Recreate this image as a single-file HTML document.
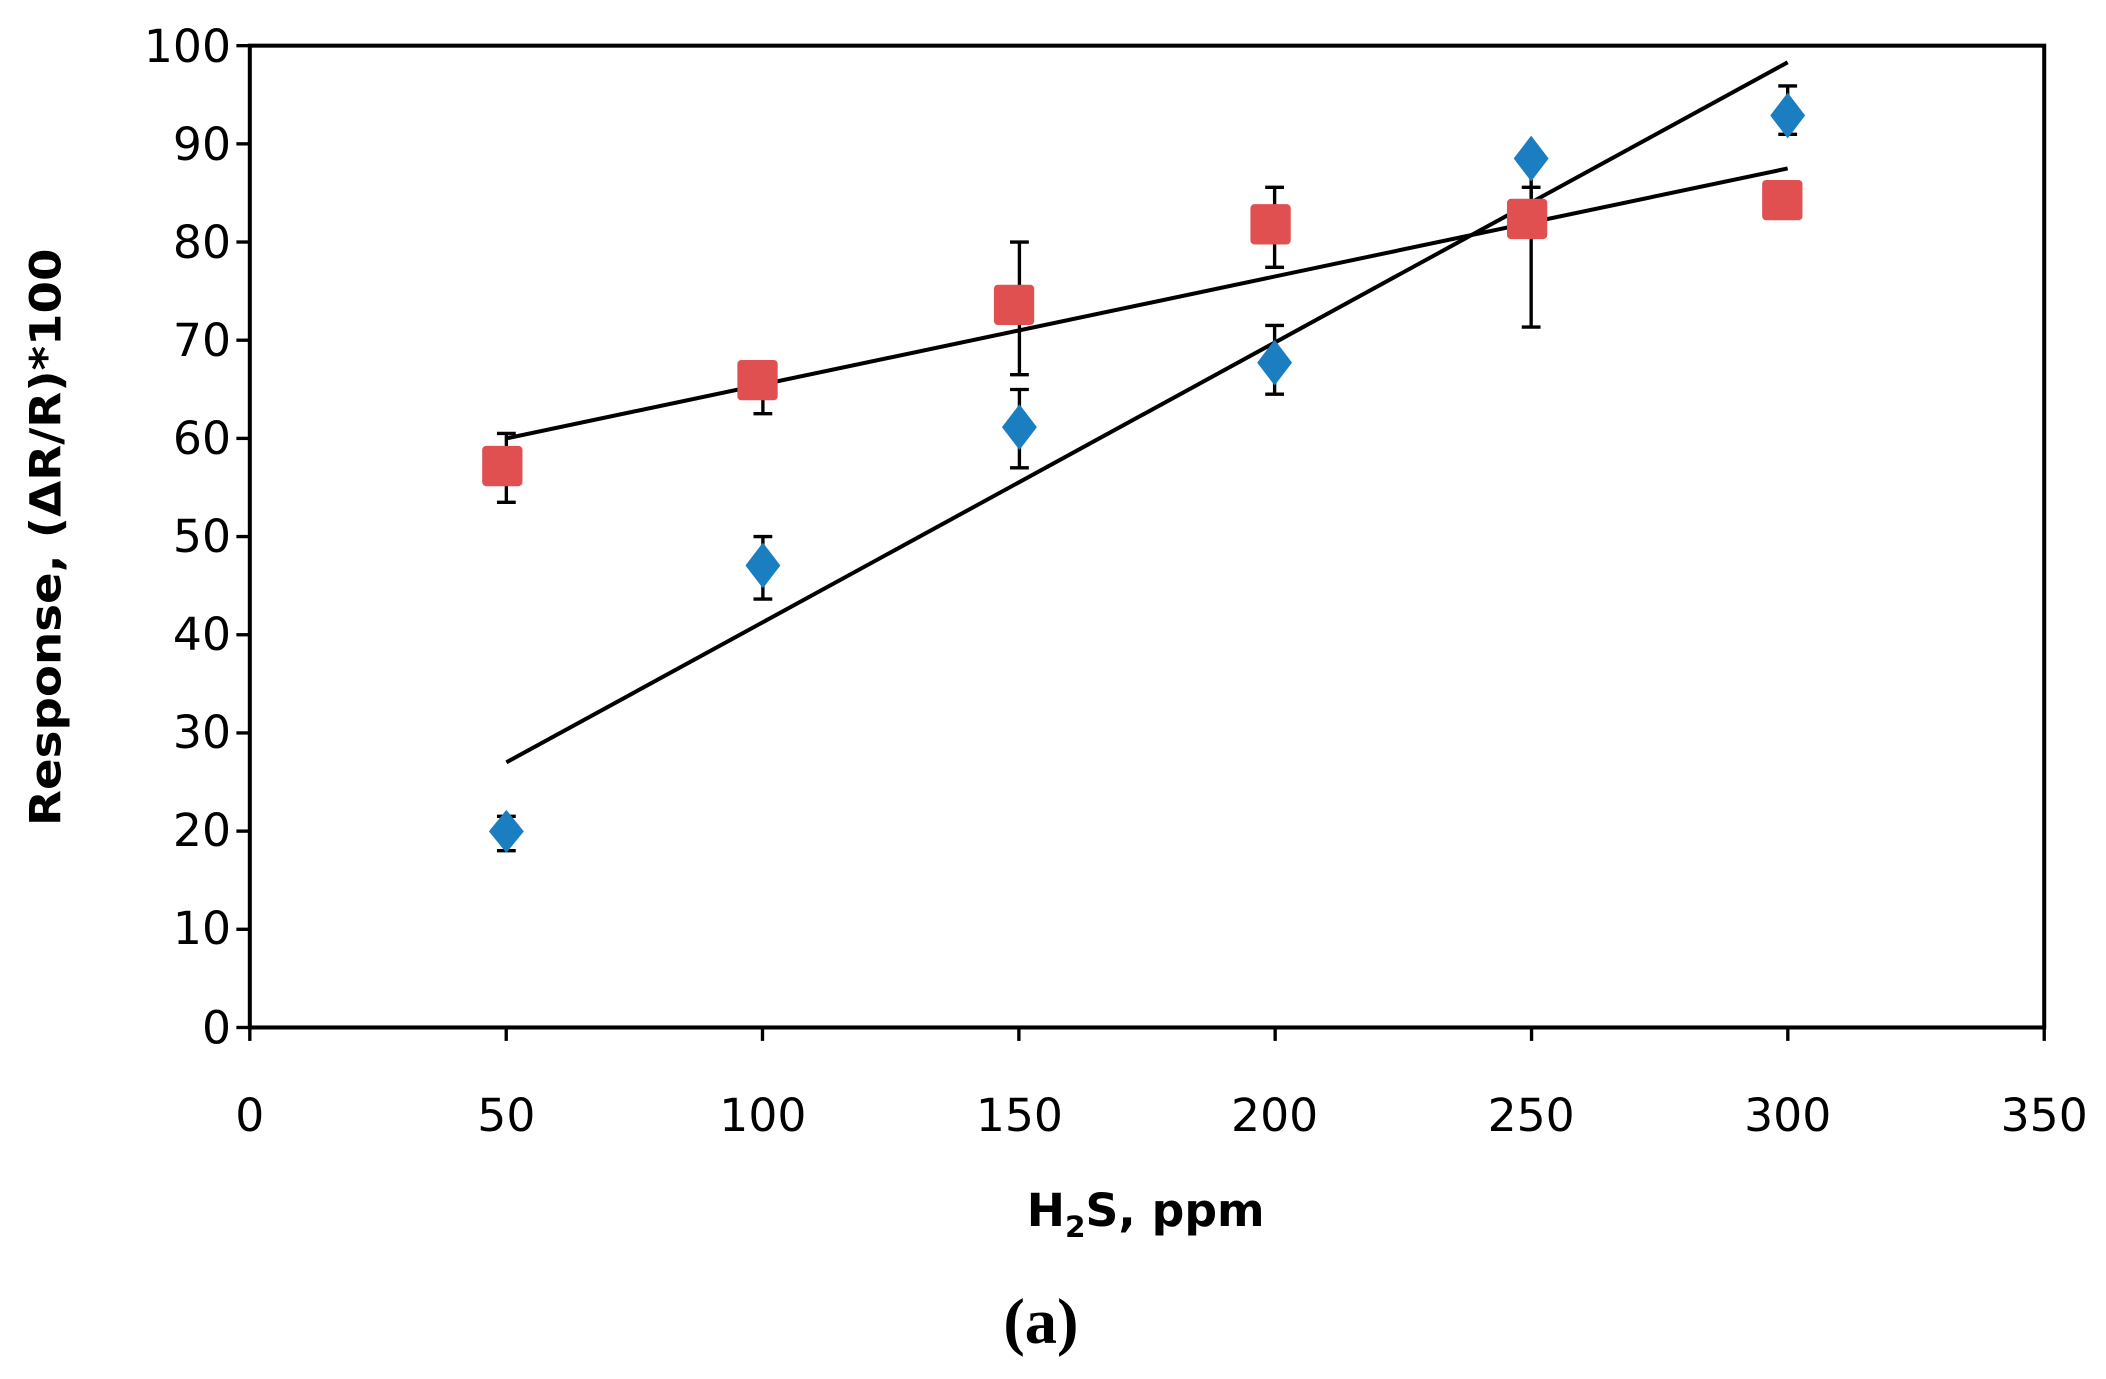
<!DOCTYPE html>
<html><head><style>html,body{margin:0;padding:0;background:#fff}</style></head>
<body>
<svg width="2106" height="1374" viewBox="0 0 1568 1023" preserveAspectRatio="none" xmlns="http://www.w3.org/2000/svg">
<rect width="1568" height="1023" fill="#fff"/>
<g stroke="#000" stroke-width="3" fill="none">
<rect x="186" y="34" width="1336" height="731"/>
</g>
<g stroke="#000" stroke-width="2.5">
<line x1="176" y1="34" x2="186" y2="34"/><line x1="176" y1="107.1" x2="186" y2="107.1"/><line x1="176" y1="180.2" x2="186" y2="180.2"/><line x1="176" y1="253.3" x2="186" y2="253.3"/><line x1="176" y1="326.4" x2="186" y2="326.4"/><line x1="176" y1="399.5" x2="186" y2="399.5"/><line x1="176" y1="472.6" x2="186" y2="472.6"/><line x1="176" y1="545.7" x2="186" y2="545.7"/><line x1="176" y1="618.8" x2="186" y2="618.8"/><line x1="176" y1="691.9" x2="186" y2="691.9"/><line x1="176" y1="765" x2="186" y2="765"/>
<line x1="186" y1="765" x2="186" y2="775"/><line x1="376.9" y1="765" x2="376.9" y2="775"/><line x1="567.7" y1="765" x2="567.7" y2="775"/><line x1="758.6" y1="765" x2="758.6" y2="775"/><line x1="949.4" y1="765" x2="949.4" y2="775"/><line x1="1140.3" y1="765" x2="1140.3" y2="775"/><line x1="1331.1" y1="765" x2="1331.1" y2="775"/><line x1="1522" y1="765" x2="1522" y2="775"/>
</g>
<g font-family="DejaVu Sans, sans-serif" font-size="34" fill="#000" text-anchor="end">
<text x="172" y="46">100</text><text x="172" y="119">90</text><text x="172" y="192">80</text><text x="172" y="265">70</text><text x="172" y="338">60</text><text x="172" y="411">50</text><text x="172" y="484">40</text><text x="172" y="557">30</text><text x="172" y="630">20</text><text x="172" y="703">10</text><text x="172" y="777">0</text>
</g>
<g font-family="DejaVu Sans, sans-serif" font-size="34" fill="#000" text-anchor="middle">
<text x="186" y="842">0</text><text x="377" y="842">50</text><text x="568" y="842">100</text><text x="759" y="842">150</text><text x="949" y="842">200</text><text x="1140" y="842">250</text><text x="1331" y="842">300</text><text x="1522" y="842">350</text>
</g>
<text x="853" y="913" font-family="DejaVu Sans, sans-serif" font-size="34" font-weight="bold" text-anchor="middle">H<tspan font-size="22" dy="8">2</tspan><tspan dy="-8">S, ppm</tspan></text>
<text transform="translate(45,400) rotate(-90)" font-family="DejaVu Sans, sans-serif" font-size="32" font-weight="bold" text-anchor="middle" textLength="430" lengthAdjust="spacingAndGlyphs">Response, (ΔR/R)*100</text>
<text x="775" y="1000" font-family="Liberation Serif, serif" font-size="48" font-weight="bold" text-anchor="middle">(a)</text>
<g stroke="#000" stroke-width="2.5">
<path d="M377 633.4V607.8M370 633.4h14M370 607.8h14"/>
<path d="M568 446V399.5M561 446h14M561 399.5h14"/>
<path d="M759 348.3V290M752 348.3h14M752 290h14"/>
<path d="M949 293.5V242.3M942 293.5h14M942 242.3h14"/>
<path d="M1140 151V114.4M1133 151h14M1133 114.4h14"/>
<path d="M1331 100V64M1324 100h14M1324 64h14"/>
<path d="M377 374V322.7M370 374h14M370 322.7h14"/>
<path d="M568 308V286M561 308h14"/>
<path d="M759 279V180.2M752 279h14M752 180.2h14"/>
<path d="M949 199V139.5M942 199h14M942 139.5h14"/>
<path d="M1140 243.5V139.5M1133 243.5h14M1133 139.5h14"/>
</g>
<g stroke="#000" stroke-width="3">
<line x1="377" y1="567.6" x2="1331" y2="46.4"/>
<line x1="377" y1="326.4" x2="1331" y2="125.4"/>
</g>
<g fill="#e05050">
<rect x="359" y="332" width="30" height="30" rx="3"/>
<rect x="549" y="268" width="30" height="30" rx="3"/>
<rect x="740" y="212" width="30" height="30" rx="3"/>
<rect x="931" y="152" width="30" height="30" rx="3"/>
<rect x="1122" y="148" width="30" height="30" rx="3"/>
<rect x="1312" y="134" width="30" height="30" rx="3"/>
</g>
<g fill="#1a7ec1">
<path d="M377 603l13 16-13 16-13-16z"/>
<path d="M568 404l13 17-13 17-13-17z"/>
<path d="M759 301l13 17-13 17-13-17z"/>
<path d="M949 253l13 17-13 17-13-17z"/>
<path d="M1140 101l13 17-13 17-13-17z"/>
<path d="M1331 69l13 17-13 17-13-17z"/>
</g>
</svg>
</body></html>
